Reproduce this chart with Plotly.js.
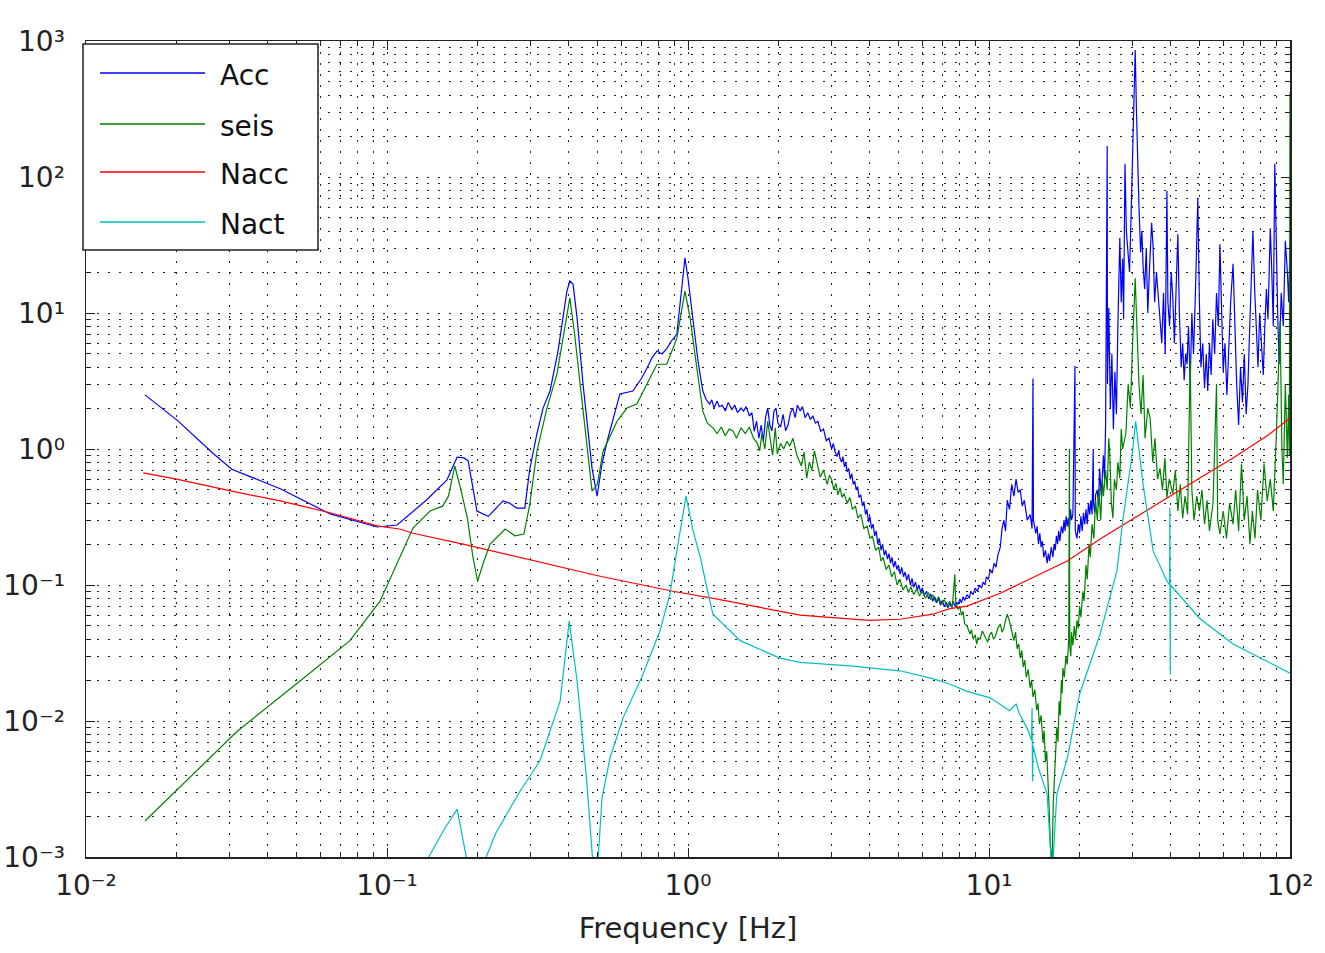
<!DOCTYPE html>
<html>
<head>
<meta charset="utf-8">
<script src="https://cdn.plot.ly/plotly-3.0.1.min.js"></script>
<style>html,body{margin:0;padding:0;background:#fff;}#chart{width:1325px;height:953px;}</style>
</head>
<body>
<div id="chart"></div>
<script>
// ---- series names and colours ----
const seriesNames = ["Acc", "seis", "Nacc", "Nact"];
const seriesColors = ["#0000ff", "#008000", "#ff0000", "#00bfbf"];

// ---- tick labels ----
const xTickVals = [0.01, 0.1, 1, 10, 100];
const xTickText = ["10\u207B\u00B2", "10\u207B\u00B9", "10\u2070", "10\u00B9", "10\u00B2"];
const yTickVals = [0.001, 0.01, 0.1, 1, 10, 100, 1000];
const yTickText = ["10\u207B\u00B3", "10\u207B\u00B2", "10\u207B\u00B9", "10\u2070", "10\u00B9", "10\u00B2", "10\u00B3"];

// ---- Acc (blue): [frequency Hz, value] ----
const accData = [
  [0.0157,2.5],[0.0202,1.61],[0.0264,0.93],[0.0305,0.71],[0.0442,0.51],[0.0647,0.333],[0.0927,0.267],
  [0.108,0.276],[0.135,0.42],[0.158,0.59],[0.171,0.87],[0.180,0.86],[0.186,0.82],[0.199,0.35],[0.217,0.32],
  [0.243,0.415],[0.255,0.40],[0.270,0.368],[0.287,0.368],[0.298,0.71],[0.315,1.3],[0.330,2.0],[0.348,2.67],
  [0.370,5.25],[0.396,14.5],[0.405,17.2],[0.415,16.3],[0.428,9.2],[0.448,3.0],[0.48,0.72],[0.499,0.45],
  [0.518,0.78],[0.542,1.2],[0.594,2.54],[0.656,2.67],[0.70,3.3],[0.731,3.94],[0.76,4.7],[0.789,5.25],
  [0.82,5.0],[0.851,5.5],[0.88,6.2],[0.918,7.0],[0.955,15.3],[0.977,25.4],[1.0,18],[1.04,9.2],[1.08,4.4],
  [1.12,2.67],[1.15,2.3],[1.18,2.14],[1.20,2.3],[1.22,2.0],[1.25,2.25],[1.27,2.05],[1.30,2.1],[1.33,1.9],
  [1.36,2.2],[1.40,1.95],[1.43,2.1],[1.46,1.85],[1.50,2.0],[1.53,1.9],[1.56,2.05],[1.60,1.75],[1.63,1.85],
  [1.66,1.35],[1.69,1.6],[1.72,1.2],[1.75,1.5],[1.78,1.14],[1.81,1.7],[1.84,2.0],[1.87,1.5],[1.90,1.36],
  [1.93,1.9],[1.96,2.0],[1.99,1.55],[2.03,1.45],[2.07,1.8],[2.11,1.36],[2.15,1.5],[2.19,1.85],[2.23,2.0],
  [2.27,1.7],[2.31,2.1],[2.36,1.9],[2.40,2.05],[2.45,1.7],[2.50,1.85],[2.55,1.65],[2.60,1.75],[2.65,1.55],
  [2.70,1.6],[2.76,1.35],[2.82,1.4],[2.88,1.15],[2.94,1.2],
  [3.00,1.0],[3.04,1.1],[3.08,0.95],[3.13,0.88],[3.17,0.98],[3.20,0.85],[3.24,0.8],[3.27,0.88],[3.31,0.74],
  [3.34,0.8],[3.38,0.68],[3.42,0.72],[3.46,0.6],[3.50,0.66],[3.54,0.55],[3.58,0.58],[3.62,0.5],[3.66,0.53],
  [3.70,0.44],[3.75,0.46],[3.80,0.38],[3.84,0.41],[3.89,0.33],[3.93,0.36],[3.98,0.29],[4.02,0.32],[4.07,0.26],
  [4.12,0.28],[4.17,0.23],[4.22,0.25],[4.27,0.2],[4.32,0.22],[4.38,0.18],[4.43,0.2],[4.49,0.165],[4.54,0.18],
  [4.6,0.155],[4.65,0.17],[4.71,0.145],[4.76,0.16],[4.82,0.135],[4.88,0.15],[4.94,0.13],[5.0,0.14],
  [5.07,0.12],[5.13,0.135],[5.2,0.115],[5.26,0.125],[5.33,0.108],[5.4,0.12],[5.48,0.1],[5.55,0.112],
  [5.62,0.096],[5.7,0.105],[5.78,0.092],[5.85,0.1],[5.93,0.088],[6.0,0.095],[6.1,0.084],[6.2,0.09],
  [6.3,0.079],[6.4,0.086],[6.5,0.076],[6.6,0.082],[6.7,0.074],[6.8,0.08],[6.9,0.071],[7.0,0.077],
  [7.1,0.069],[7.2,0.075],[7.3,0.068],[7.4,0.073],[7.5,0.069],[7.6,0.076],[7.7,0.07],[7.8,0.075],
  [7.9,0.072],[8.0,0.079],[8.1,0.074],[8.2,0.082],[8.3,0.077],[8.45,0.085],[8.6,0.08],[8.7,0.09],
  [8.85,0.085],[9.0,0.095],[9.15,0.09],[9.3,0.1],[9.45,0.095],[9.55,0.105],[9.7,0.1],[9.8,0.115],
  [9.95,0.11],[10.1,0.13],[10.25,0.122],[10.4,0.145],[10.55,0.135],[10.7,0.165],[10.9,0.19],[11.05,0.26],
  [11.2,0.3],[11.35,0.25],[11.5,0.42],[11.7,0.36],[11.9,0.55],[12.1,0.45],[12.3,0.6],[12.5,0.48],
  [12.7,0.5],[12.9,0.38],[13.1,0.42],[13.4,0.3],[13.7,0.33],[13.9,0.26],[14.0,3.3],[14.05,0.3],[14.3,0.24],
  [14.45,0.27],[14.6,0.2],[14.75,0.24],[14.9,0.19],[15.05,0.21],[15.2,0.16],[15.4,0.18],[15.6,0.145],
  [15.75,0.17],[15.9,0.15],[16.1,0.19],[16.3,0.16],[16.45,0.2],[16.6,0.18],[16.75,0.23],[16.9,0.2],
  [17.05,0.25],[17.2,0.21],[17.4,0.27],[17.6,0.24],[17.75,0.3],[17.9,0.25],[18.05,0.32],[18.2,0.27],
  [18.35,0.31],[18.5,0.26],[18.65,0.36],[18.8,0.3],[19.0,0.33],[19.3,4.1],[19.35,0.25],[19.6,0.22],
  [19.8,0.28],[20.0,0.24],[20.2,0.32],[20.4,0.25],[20.6,0.34],[20.8,0.28],[21.0,0.36],[21.2,0.28],
  [21.4,0.4],[21.6,0.33],[21.8,0.42],[22.0,0.33],[22.2,1.0],[22.25,0.4],[22.45,0.34],[22.6,0.46],
  [22.9,0.5],[23.1,0.38],[23.3,0.72],[23.6,0.45],[23.8,0.6],[24.0,0.9],[24.2,0.6],[24.4,1.5],[24.7,169],
  [24.75,3],[25.0,10.9],[25.3,2.0],
  [25.6,5],[25.9,1.4],[26.2,3.7],[26.5,1.8],[26.8,8],[27.2,35.6],[27.5,12],[27.8,25],[28.0,9],[28.3,125],
  [28.6,40],[28.9,30],[29.3,20],[29.6,45],[29.9,131],[30.2,300],[30.6,860],[30.9,300],[31.2,110],[31.5,60],
  [31.9,28],[32.2,40],[32.5,22],[32.9,15],[33.3,30],[33.7,10],[34.1,20],[34.7,46],[35.1,30],[35.5,12],
  [36.0,20],[36.5,14],[37.0,9.8],[37.5,6],[38.0,14],[38.5,5],[39.0,79],[39.3,12],[39.8,8],[40.3,20],
  [40.8,12.9],[41.3,6],[41.8,14],[42.4,38],[42.9,10],[43.5,4],[44.0,6],[44.5,3.2],[45.0,5],[45.5,4.2],
  [46.0,8],[46.6,3],[47.2,10],[47.8,5],[48.5,14],[49.4,70],[50.0,12],[50.6,4],[51.3,6],[52.0,2.8],[52.7,5],
  [53.3,2.67],[54.0,6],[54.7,3.5],[55.4,9],[56.2,5],[57.0,14],[57.8,8],[58.5,32],[59.2,10],[60.0,3.7],
  [60.8,6],[61.7,2.5],[62.5,5],[63.5,12],[64.7,23],[65.5,8],[66.5,3],[67.5,1.5],[68.5,4],[69.5,2.2],
  [70.5,5],[71.5,1.8],[72.5,3],[73.5,8],[74.3,20],[75.3,40],[76.3,15],[77.3,8],[78.3,4],[79.3,10],[80.5,6],
  [81.5,3.5],[82.5,8],[83.5,15],[84.5,9],[86.0,42],[87.0,20],[88.0,8],[89.0,125],[90.0,25],[91.0,10],
  [92.0,4.2],[93.5,14],[95.0,8],[96.5,34],[98.0,20],[99.0,12],[100,32]
];

// ---- seis (green) ----
const seisData = [
  [0.0157,0.00184],[0.0318,0.0084],[0.0514,0.0197],[0.0753,0.039],[0.0948,0.076],[0.110,0.16],[0.122,0.262],
  [0.139,0.35],[0.153,0.38],[0.160,0.45],[0.168,0.75],[0.176,0.5],[0.185,0.31],[0.193,0.16],[0.200,0.107],
  [0.21,0.15],[0.22,0.2],[0.247,0.258],[0.266,0.23],[0.285,0.237],[0.298,0.39],[0.315,0.97],[0.340,2.0],
  [0.367,3.55],[0.396,9.2],[0.405,12.9],[0.42,7.0],[0.445,2.25],[0.48,0.49],[0.50,0.55],[0.522,0.96],
  [0.581,1.6],[0.627,2.0],[0.676,2.14],[0.731,3.0],[0.76,3.6],[0.789,4.2],[0.85,4.2],[0.918,6.5],[0.977,14.5],
  [1.016,9.2],[1.07,3.94],[1.12,1.9],[1.16,1.55],[1.21,1.43],[1.25,1.3],[1.29,1.45],[1.33,1.25],[1.37,1.4],
  [1.41,1.36],[1.45,1.2],[1.50,1.43],[1.55,1.3],[1.60,1.45],[1.65,1.2],[1.70,1.1],[1.73,0.97],[1.76,1.3],
  [1.80,1.0],[1.84,1.6],[1.87,1.2],[1.91,0.9],[1.95,1.43],[1.98,0.92],[2.03,1.1],[2.08,1.0],[2.13,1.14],
  [2.18,1.05],[2.23,1.2],[2.30,0.9],[2.38,0.75],[2.43,0.95],[2.48,0.61],[2.53,0.8],[2.58,0.7],[2.63,0.97],
  [2.68,0.8],[2.75,0.62],[2.82,0.7],[2.90,0.55],[2.95,0.64],[3.0,0.6],[3.05,0.5],[3.1,0.56],[3.15,0.46],
  [3.2,0.52],[3.25,0.44],[3.3,0.47],[3.38,0.4],[3.45,0.44],[3.52,0.36],[3.6,0.38],[3.67,0.31],[3.75,0.33],
  [3.84,0.26],[3.94,0.27],[4.02,0.22],[4.1,0.23],[4.2,0.18],[4.3,0.19],[4.38,0.15],[4.45,0.16],[4.55,0.13],
  [4.65,0.14],[4.75,0.115],[4.85,0.125],[4.95,0.1],[5.06,0.11],[5.18,0.092],[5.3,0.1],[5.4,0.088],[5.5,0.097],
  [5.62,0.085],[5.76,0.094],[5.88,0.083],[6.0,0.09],[6.15,0.08],[6.3,0.088],[6.4,0.078],[6.5,0.085],
  [6.65,0.075],[6.8,0.082],[6.95,0.072],[7.1,0.078],[7.25,0.07],[7.4,0.076],[7.55,0.068],
  [7.7,0.12],[7.75,0.075],[7.9,0.066],[8.0,0.07],[8.1,0.06],[8.2,0.064],[8.3,0.052],[8.45,0.05],[8.55,0.046],
  [8.65,0.0436],[8.75,0.047],[8.85,0.04],[9.0,0.043],[9.1,0.0368],[9.2,0.041],[9.35,0.04],[9.5,0.046],
  [9.6,0.0436],[9.75,0.04],[9.9,0.038],[10.05,0.043],[10.2,0.045],[10.35,0.04],[10.5,0.042],[10.7,0.048],
  [10.9,0.0517],[11.05,0.045],[11.2,0.048],[11.35,0.055],[11.5,0.061],[11.65,0.056],[11.8,0.05],[11.95,0.044],
  [12.1,0.039],[12.25,0.045],[12.4,0.034],[12.55,0.037],[12.7,0.029],[12.85,0.033],[13.0,0.025],[13.15,0.028],
  [13.3,0.021],[13.5,0.024],[13.7,0.0175],[13.85,0.02],[14.0,0.015],[14.2,0.017],[14.4,0.012],[14.55,0.0135],
  [14.7,0.0095],[14.9,0.011],[15.1,0.007],[15.25,0.0085],[15.4,0.005],[15.55,0.006],[15.7,0.003],
  [15.85,0.0022],[16.0,0.0012],[16.2,0.0009],[16.35,0.0025],[16.5,0.004],[16.65,0.006],[16.8,0.009],
  [16.95,0.007],[17.1,0.014],[17.25,0.011],[17.4,0.02],[17.5,0.016],[17.6,0.0245],[17.8,0.021],[18.0,0.03],
  [18.2,0.026],[18.4,0.04],[18.5,1.0],[18.55,0.035],[18.7,0.03],[18.8,0.045],[19.0,0.036],[19.2,0.05],
  [19.4,0.04],[19.6,0.055],[19.8,0.048],[20.0,0.07],[20.2,0.058],[20.5,0.09],[20.7,0.076],[21.0,0.14],
  [21.2,0.11],[21.5,0.2],[21.7,0.16],[22.0,0.28],[22.3,0.22],[22.6,0.42],[22.9,0.3],[23.2,0.5],[23.5,0.3],
  [23.8,0.6],[24.0,0.45],[24.4,0.7],[24.7,0.5],[25.0,1.2],[25.2,0.9],[25.5,0.4],[25.8,0.31],[26.1,0.6],
  [26.5,0.5],[26.8,0.8],[27.2,0.61],[27.5,1.4],[27.8,1.0],
  [28.5,1.3],[29.0,3.0],[29.5,2.0],[30.0,6],[30.6,18],[31.0,8],[31.5,3],[32.0,1.8],[32.5,3.5],
  [33.0,1.2],[33.7,2.0],[34.3,1.69],[35.0,0.8],[35.6,1.2],[36.3,0.6],[37.0,0.72],[37.7,0.5],[38.4,0.86],
  [39.0,0.44],[39.7,0.6],[40.8,0.47],[41.6,0.7],[42.4,0.35],[43.2,0.55],[44.0,0.31],[44.8,0.45],[45.7,0.33],
  [46.6,4.7],[47.2,0.5],[48.0,0.3],[49.0,0.45],[50.0,0.35],[51.0,0.5],[52.0,0.28],[53.0,0.42],[54.0,0.25],
  [55.5,0.4],[57.0,3.0],[57.5,0.3],[58.5,0.237],[60.0,0.35],[61.5,0.22],[63.0,0.4],[64.7,0.28],[66.0,0.5],
  [67.5,0.25],[69.0,0.78],[70.5,0.3],[72.0,0.45],[73.6,0.2],[75.0,0.35],[76.5,0.22],[78.0,0.5],[80.0,0.3],
  [82.0,0.78],[84.0,0.415],[86.0,0.6],[88.0,0.35],[90.0,1.2],[92.7,8.7],[94.0,1.0],[95.0,0.55],[96.5,3.0],
  [98.0,0.86],[99.0,2.5],[99.5,0.9],[100,420]
];

// ---- Nacc (red) ----
const naccData = [
  [0.0155,0.667],[0.02,0.60],[0.0305,0.49],[0.0442,0.415],[0.0647,0.34],[0.0927,0.272],[0.110,0.258],
  [0.122,0.24],[0.179,0.2],[0.30,0.152],[0.51,0.116],[0.891,0.09],[1.24,0.079],[2.36,0.06],[3.12,0.057],
  [4.0,0.055],[5.06,0.056],[6.5,0.061],[7.4,0.067],[8.45,0.07],[10.9,0.087],[14,0.113],[18.2,0.15],
  [23.4,0.218],[30,0.306],[39,0.436],[50,0.61],[64.7,0.86],[84,1.25],[100,1.69]
];

// ---- Nact (cyan) ----
const nactData = [
  [0.130,0.0008],[0.155,0.0016],[0.171,0.00225],[0.180,0.0012],[0.187,0.0008],[0.205,0.0008],[0.23,0.0015],
  [0.277,0.00306],[0.322,0.00508],[0.376,0.014],[0.403,0.0543],[0.428,0.0197],[0.461,0.0036],[0.485,0.0008],
  [0.500,0.0008],[0.518,0.0027],[0.55,0.0053],[0.608,0.0105],[0.708,0.022],[0.807,0.046],[0.871,0.086],
  [0.918,0.178],[0.985,0.45],[1.04,0.25],[1.1,0.158],[1.15,0.10],[1.21,0.061],[1.49,0.039],[2.02,0.029],
  [2.36,0.027],[3.45,0.0254],[5.06,0.0234],[6.5,0.0205],[7.4,0.0187],[8.45,0.0165],[10.1,0.0148],
  [11.7,0.0119],[12.3,0.0133],[12.6,0.0114],[13.5,0.0085],[13.85,0.0072],[13.9,0.0125],[13.95,0.0036],
  [14.0,0.0066],[14.6,0.0045],[15.6,0.0029],[16.1,0.0009],[16.3,0.0009],[16.8,0.0029],[18.2,0.0053],
  [20,0.0158],[23.4,0.0436],[26.6,0.127],[27.9,0.31],[30,0.97],[30.7,1.6],[32.5,0.55],[35.1,0.178],
  [39,0.107],[39.8,0.1],[39.9,0.37],[40.0,0.022],[40.1,0.1],[50,0.057],[64.7,0.0368],[100,0.0225]
];

const allData = [accData, seisData, naccData, nactData];

// ---- plot geometry (pixels) ----
const W = 1325, H = 953;
const M = {l: 86, r: 35, t: 41, b: 96};
const plotW = W - M.l - M.r, plotH = H - M.t - M.b;
const px2x = px => (px - M.l) / plotW;
const py2y = py => 1 - (py - M.t) / plotH;

// minor tick positions (2..9 per decade)
function minorVals(lo, hi) {
  const out = [];
  for (let e = lo; e < hi; e++) for (let d = 2; d <= 9; d++) out.push(d * Math.pow(10, e));
  return out;
}

const traces = allData.map((d, i) => ({
  type: "scatter", mode: "lines", name: seriesNames[i],
  x: d.map(p => p[0]), y: d.map(p => p[1]),
  line: {color: seriesColors[i], width: 1.2},
  showlegend: false, hoverinfo: "skip"
}));

const gridDash = "2px,9px";
const gridColor = "#222";
const axisCommon = {
  type: "log", tickmode: "array", ticks: "inside", ticklen: 9, tickwidth: 1, tickcolor: "#222",
  mirror: "allticks", showline: true, linecolor: "#222", linewidth: 1.5,
  showgrid: true, gridcolor: gridColor, griddash: gridDash, gridwidth: 1, zeroline: false,
  tickfont: {family: "DejaVu Sans", size: 28, color: "#222"}
};

// legend drawn as a box, sample lines and labels (MATLAB style)
const legBox = {x0: 83, x1: 318, y0: 44, y1: 250};
const legLineY = [73, 124, 172, 222];
const shapes = [{
  type: "rect", xref: "paper", yref: "paper", layer: "above",
  x0: px2x(legBox.x0), x1: px2x(legBox.x1), y0: py2y(legBox.y1), y1: py2y(legBox.y0),
  line: {color: "#222", width: 1.5}, fillcolor: "#fff"
}];
const annotations = [];
seriesNames.forEach((nm, i) => {
  shapes.push({type: "line", xref: "paper", yref: "paper", layer: "above",
    x0: px2x(100), x1: px2x(205), y0: py2y(legLineY[i]), y1: py2y(legLineY[i]),
    line: {color: seriesColors[i], width: 1.5}});
  annotations.push({xref: "paper", yref: "paper", x: px2x(218), y: py2y(legLineY[i] + 3),
    xanchor: "left", yanchor: "middle", showarrow: false, text: nm,
    font: {family: "DejaVu Sans", size: 28, color: "#111"}});
});

const minorCommon = {tickmode: "array", ticks: "inside", ticklen: 5, tickcolor: "#222",
  showgrid: true, gridcolor: gridColor, griddash: gridDash, gridwidth: 1};

const layout = {
  width: W, height: H, margin: M,
  paper_bgcolor: "#fff", plot_bgcolor: "#fff", showlegend: false,
  xaxis: Object.assign({}, axisCommon, {
    range: [-2, 2], tickvals: xTickVals, ticktext: xTickText, ticklabelstandoff: 3,
    minor: Object.assign({tickvals: minorVals(-2, 2)}, minorCommon),
    title: {text: "Frequency [Hz]", font: {family: "DejaVu Sans", size: 29, color: "#222"}, standoff: 16}
  }),
  yaxis: Object.assign({}, axisCommon, {
    range: [-3, 3], tickvals: yTickVals, ticktext: yTickText, ticklabelstandoff: 14,
    minor: Object.assign({tickvals: minorVals(-3, 3)}, minorCommon)
  }),
  shapes: shapes, annotations: annotations
};

Plotly.newPlot("chart", traces, layout, {displayModeBar: false, staticPlot: true});
</script>
</body>
</html>
